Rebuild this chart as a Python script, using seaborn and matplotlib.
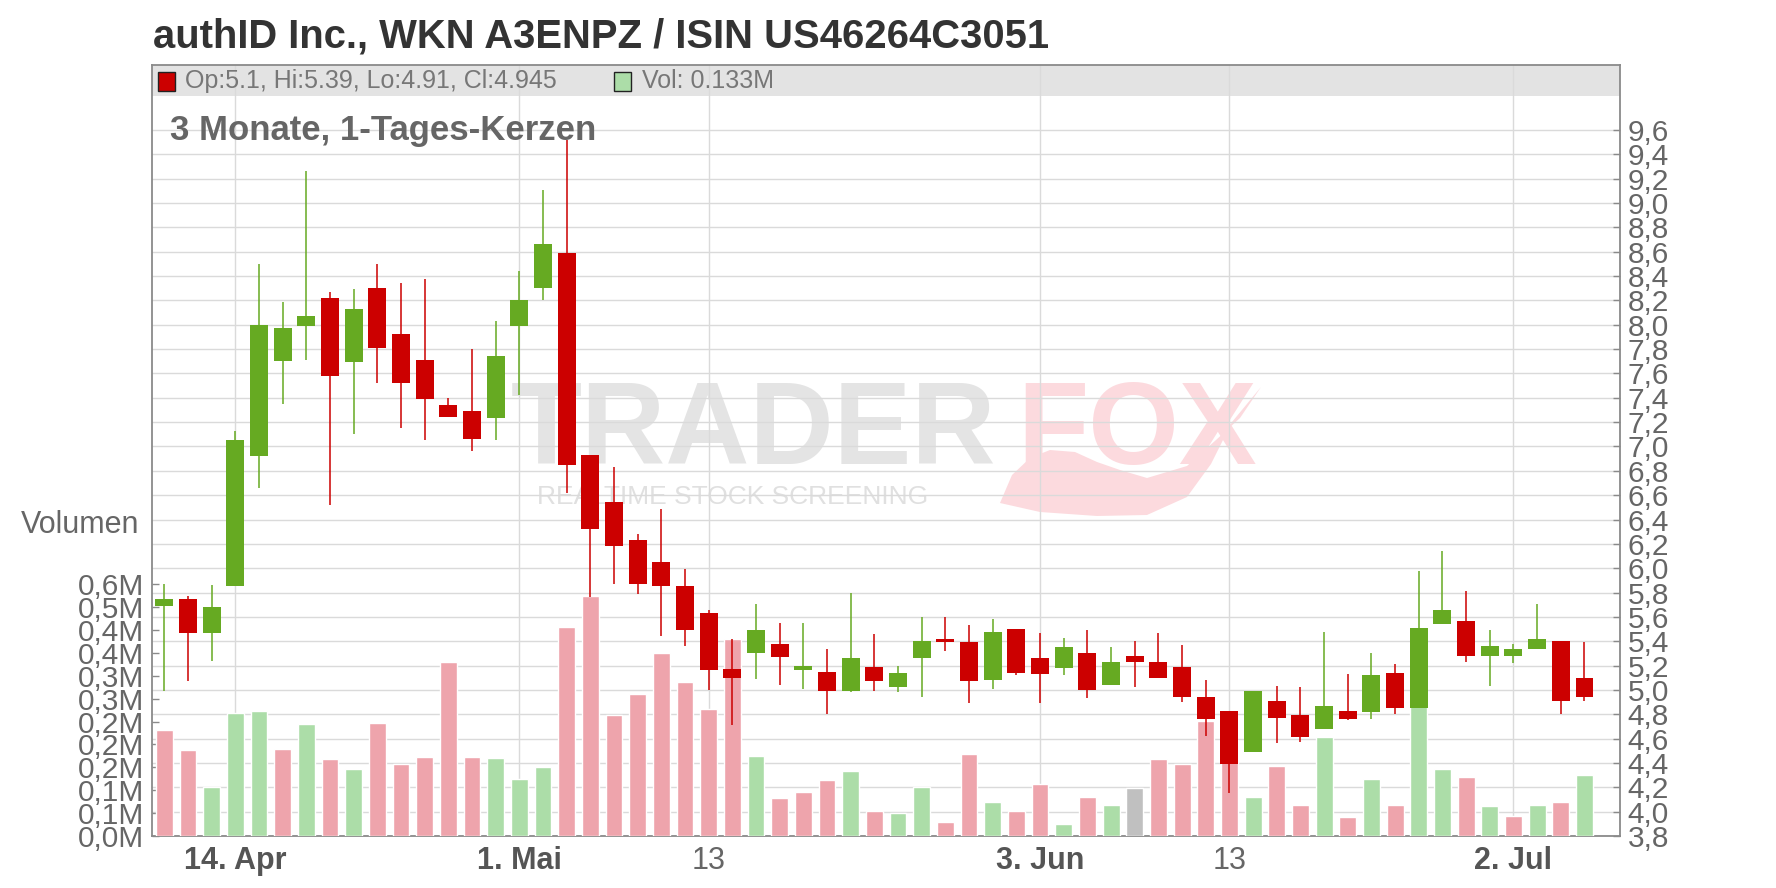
import numpy as np
import pandas as pd
import seaborn as sns
import matplotlib
matplotlib.use("Agg")
import matplotlib.pyplot as plt
from matplotlib.patches import Rectangle, Polygon

# authID Inc. daily candles, US trading days 9 Apr - 8 Jul 2025
holidays = ["2025-04-18", "2025-05-26", "2025-06-19", "2025-07-04"]
dates = pd.bdate_range("2025-04-09", "2025-07-08").drop(pd.to_datetime(holidays))

opens = [5.69, 5.75, 5.47, 5.85, 6.92, 7.70, 7.99, 8.22, 7.69, 8.30,
         7.92, 7.71, 7.34, 7.29, 7.23, 7.99, 8.30, 8.59, 6.93, 6.54,
         6.23, 6.05, 5.85, 5.63, 5.17, 5.30, 5.38, 5.16, 5.15, 4.99,
         5.19, 5.02, 5.26, 5.42, 5.39, 5.08, 5.50, 5.26, 5.18, 5.30,
         5.04, 5.28, 5.23, 5.19, 4.94, 4.83, 4.49, 4.91, 4.79, 4.68,
         4.83, 4.82, 5.14, 4.85, 5.54, 5.57, 5.28, 5.28, 5.34, 5.40,
         5.10]
highs = [5.87, 5.77, 5.86, 7.13, 8.50, 8.19, 9.26, 8.27, 8.29, 8.50,
         8.34, 8.38, 7.40, 7.80, 8.03, 8.44, 9.11, 9.52, 6.93, 6.83,
         6.28, 6.49, 5.99, 5.66, 5.42, 5.71, 5.55, 5.55, 5.34, 5.80,
         5.46, 5.20, 5.60, 5.60, 5.53, 5.58, 5.50, 5.47, 5.43, 5.49,
         5.35, 5.40, 5.47, 5.37, 5.08, 4.83, 4.99, 5.03, 5.02, 5.48,
         5.13, 5.30, 5.21, 5.98, 6.14, 5.81, 5.49, 5.38, 5.71, 5.40,
         5.39]
lows = [4.99, 5.07, 5.24, 5.85, 6.66, 7.35, 7.71, 6.52, 7.10, 7.52,
        7.15, 7.05, 7.24, 6.96, 7.05, 7.42, 8.20, 6.62, 5.76, 5.87,
        5.79, 5.44, 5.36, 5.00, 4.71, 5.09, 5.04, 5.01, 4.80, 4.98,
        4.99, 4.98, 4.94, 5.32, 4.89, 5.01, 5.12, 4.89, 5.12, 4.93,
        5.04, 5.02, 5.10, 4.90, 4.62, 4.15, 4.49, 4.56, 4.57, 4.68,
        4.75, 4.76, 4.80, 4.85, 5.54, 5.23, 5.03, 5.22, 5.34, 4.80,
        4.91]
closes = [5.75, 5.47, 5.68, 7.05, 8.00, 7.97, 8.07, 7.58, 8.13, 7.81,
          7.52, 7.39, 7.24, 7.06, 7.74, 8.20, 8.66, 6.85, 6.32, 6.18,
          5.87, 5.85, 5.49, 5.16, 5.10, 5.49, 5.27, 5.20, 4.99, 5.26,
          5.07, 5.14, 5.40, 5.39, 5.07, 5.48, 5.14, 5.13, 5.35, 5.00,
          5.23, 5.23, 5.10, 4.94, 4.76, 4.39, 4.99, 4.77, 4.61, 4.87,
          4.76, 5.12, 4.85, 5.51, 5.66, 5.28, 5.36, 5.34, 5.42, 4.91,
          4.945]
# volume in million shares
volumes = [0.232, 0.188, 0.107, 0.269, 0.273, 0.190, 0.245, 0.168, 0.146, 0.247,
           0.157, 0.173, 0.380, 0.173, 0.170, 0.125, 0.151, 0.457, 0.524, 0.265,
           0.310, 0.400, 0.337, 0.278, 0.431, 0.175, 0.083, 0.096, 0.122, 0.142,
           0.055, 0.050, 0.107, 0.031, 0.179, 0.074, 0.055, 0.114, 0.026, 0.085,
           0.068, 0.105, 0.168, 0.157, 0.251, 0.210, 0.085, 0.153, 0.068, 0.216,
           0.042, 0.125, 0.068, 0.300, 0.146, 0.129, 0.066, 0.044, 0.068, 0.074,
           0.133]
prev_close = 5.80  # close of the day before the first candle

tick_dates = ["2025-04-14", "2025-05-01", "2025-05-13", "2025-06-03", "2025-06-13", "2025-07-02"]
tick_labels = ["14. Apr", "1. Mai", "13", "3. Jun", "13", "2. Jul"]
tick_bold = [True, True, False, True, False, True]

price_ticks = np.round(np.arange(3.8, 9.61, 0.2), 1)
vol_ticks = [0, 0.05, 0.10, 0.15, 0.20, 0.25, 0.30, 0.35, 0.40, 0.45, 0.50, 0.55]
vol_tick_labels = ["0,0M", "0,1M", "0,1M", "0,2M", "0,2M", "0,2M",
                   "0,3M", "0,3M", "0,4M", "0,4M", "0,5M", "0,6M"]

title = "authID Inc., WKN A3ENPZ / ISIN US46264C3051"
subtitle = "3 Monate, 1-Tages-Kerzen"

# colours
GREEN, RED = "#66aa22", "#cc0000"
vol_palette = {"up": "#acdda8", "down": "#eea4ac", "flat": "#c0c0c0"}
TXT = "#666666"
GRID = "#dadada"
SPINE = "#8a8a8a"

df = pd.DataFrame({"date": dates, "open": opens, "high": highs, "low": lows,
                   "close": closes, "volume": volumes})
df["i"] = np.arange(len(df))
prev = df["close"].shift(1).fillna(prev_close)
df["vol_dir"] = np.where(df["close"] > prev, "up", np.where(df["close"] < prev, "down", "flat"))
df["candle_col"] = np.where(df["close"] >= df["open"], GREEN, RED)

sns.set_theme(style="white")
plt.rcParams["font.family"] = ["Liberation Sans", "DejaVu Sans"]

W, H = 1776, 888
fig = plt.figure(figsize=(W / 100, H / 100), dpi=100)
fig.patch.set_facecolor("white")

# plot box in pixels: left 152, right 1620, top 65, bottom 836
rect = [152 / W, (H - 836) / H, (1620 - 152) / W, (836 - 65) / H]
ax = fig.add_axes(rect)           # price scale, grid, watermark
axv = ax.twinx()                  # volume bars
axc = ax.twinx()                  # candles on top

ymin, ymax = 3.8, 10.134
ax.set_ylim(ymin, ymax)
axc.set_ylim(ymin, ymax)
axv.set_ylim(0, 1.685)

# grid
ax.set_axisbelow(True)
ax.set_yticks(price_ticks)
ax.set_yticklabels([f"{v:.1f}".replace(".", ",") for v in price_ticks])
tick_pos = [int(np.where(df["date"] == pd.Timestamp(d))[0][0]) for d in tick_dates]
ax.set_xticks(tick_pos)
ax.set_xticklabels(tick_labels)
ax.grid(True, color=GRID, linewidth=1.0)

# legend band at the top of the plot box
band_bottom = (836 - 96) / (836 - 65)
ax.add_patch(Rectangle((0, band_bottom), 1, 1 - band_bottom, transform=ax.transAxes,
                       facecolor="#e3e3e3", edgecolor="none", zorder=0.3))

# watermark (logo)
ax.text(511 / W, 1 - 464 / H, "TRADER", transform=fig.transFigure, fontsize=84,
        fontweight="bold", color="#e4e4e4", zorder=0.2)
ax.text(1017 / W, 1 - 464 / H, "FOX", transform=fig.transFigure, fontsize=84,
        fontweight="bold", color="#fcdade", zorder=0.2)
ax.text(537 / W, 1 - 504 / H, "REALTIME STOCK SCREENING", transform=fig.transFigure,
        fontsize=19, color="#e0e0e0", zorder=0.2)
tail = [(1000, 503), (1040, 512), (1097, 516), (1147, 515), (1187, 497), (1211, 464),
        (1232, 422), (1261, 387), (1240, 418), (1216, 440), (1187, 466), (1147, 478),
        (1120, 470), (1097, 462), (1075, 452), (1050, 450), (1030, 458), (1012, 475)]
ax.add_patch(Polygon([(x / W, 1 - y / H) for x, y in tail], closed=True,
                     transform=fig.transFigure, facecolor="#fcdade", edgecolor="none",
                     zorder=0.2))

# volume bars
sns.barplot(data=df, x="i", y="volume", hue="vol_dir", palette=vol_palette,
            native_scale=True, dodge=False, width=0.71, saturation=1,
            errorbar=None, legend=False, ax=axv)
axv.set_xlabel("")
axv.set_ylabel("")

# candles
axc.vlines(df["i"], df["low"], df["high"], colors=df["candle_col"], linewidth=1.1, zorder=2)
body_lo = np.minimum(df["open"], df["close"])
body_h = (df["open"] - df["close"]).abs()
axc.bar(df["i"], body_h, bottom=body_lo, width=0.76, color=df["candle_col"],
        linewidth=0, zorder=3)

for a in (ax, axv, axc):
    a.set_xlim(-0.52, 61.5)

# axes styling
ax.yaxis.tick_right()
ax.tick_params(axis="y", which="both", direction="in", length=5, width=1, color=SPINE,
               labelsize=21.5, labelcolor=TXT, pad=5.5, left=False, labelleft=False,
               right=True, labelright=True)
ax.tick_params(axis="x", direction="out", length=4, width=1, color=SPINE,
               labelsize=22, labelcolor="#555555", pad=3)
for lab, b in zip(ax.get_xticklabels(), tick_bold):
    lab.set_fontweight("bold" if b else "normal")
    if not b:
        lab.set_color(TXT)
for s in ax.spines.values():
    s.set_color(SPINE)
    s.set_linewidth(1.3)

axv.yaxis.tick_left()
axv.set_yticks(vol_ticks)
axv.set_yticklabels(vol_tick_labels)
axv.tick_params(axis="y", direction="in", length=5, width=1, color=SPINE,
                labelsize=21.5, labelcolor=TXT, pad=5.5, right=False, labelright=False)
axc.set_yticks([])
axc.tick_params(right=False, labelright=False)
for a in (axv, axc):
    for s in a.spines.values():
        s.set_visible(False)

# texts
fig.text(153 / W, 1 - 47 / H, title, fontsize=28.8, fontweight="bold", color="#333333")
fig.text(170 / W, 1 - 140 / H, subtitle, fontsize=25, fontweight="bold", color=TXT)
fig.text(139 / W, 1 - 533 / H, "Volumen", ha="right", fontsize=22, color=TXT)

last = df.iloc[-1]
fig.add_artist(Rectangle((158 / W, 1 - 91 / H), 17 / W, 19 / H, transform=fig.transFigure,
                         facecolor=last["candle_col"], edgecolor="#222222", linewidth=1))
fig.text(185 / W, 1 - 81 / H,
         f"Op:{last['open']:g}, Hi:{last['high']:g}, Lo:{last['low']:g}, Cl:{last['close']:g}",
         va="center", fontsize=18, color="#777777")
fig.add_artist(Rectangle((614 / W, 1 - 91 / H), 17 / W, 19 / H, transform=fig.transFigure,
                         facecolor=vol_palette[last["vol_dir"]], edgecolor="#222222", linewidth=1))
fig.text(642 / W, 1 - 81 / H, f"Vol: {last['volume']:.3f}M", va="center",
         fontsize=18, color="#777777")

fig.savefig("out.png", dpi=100)
